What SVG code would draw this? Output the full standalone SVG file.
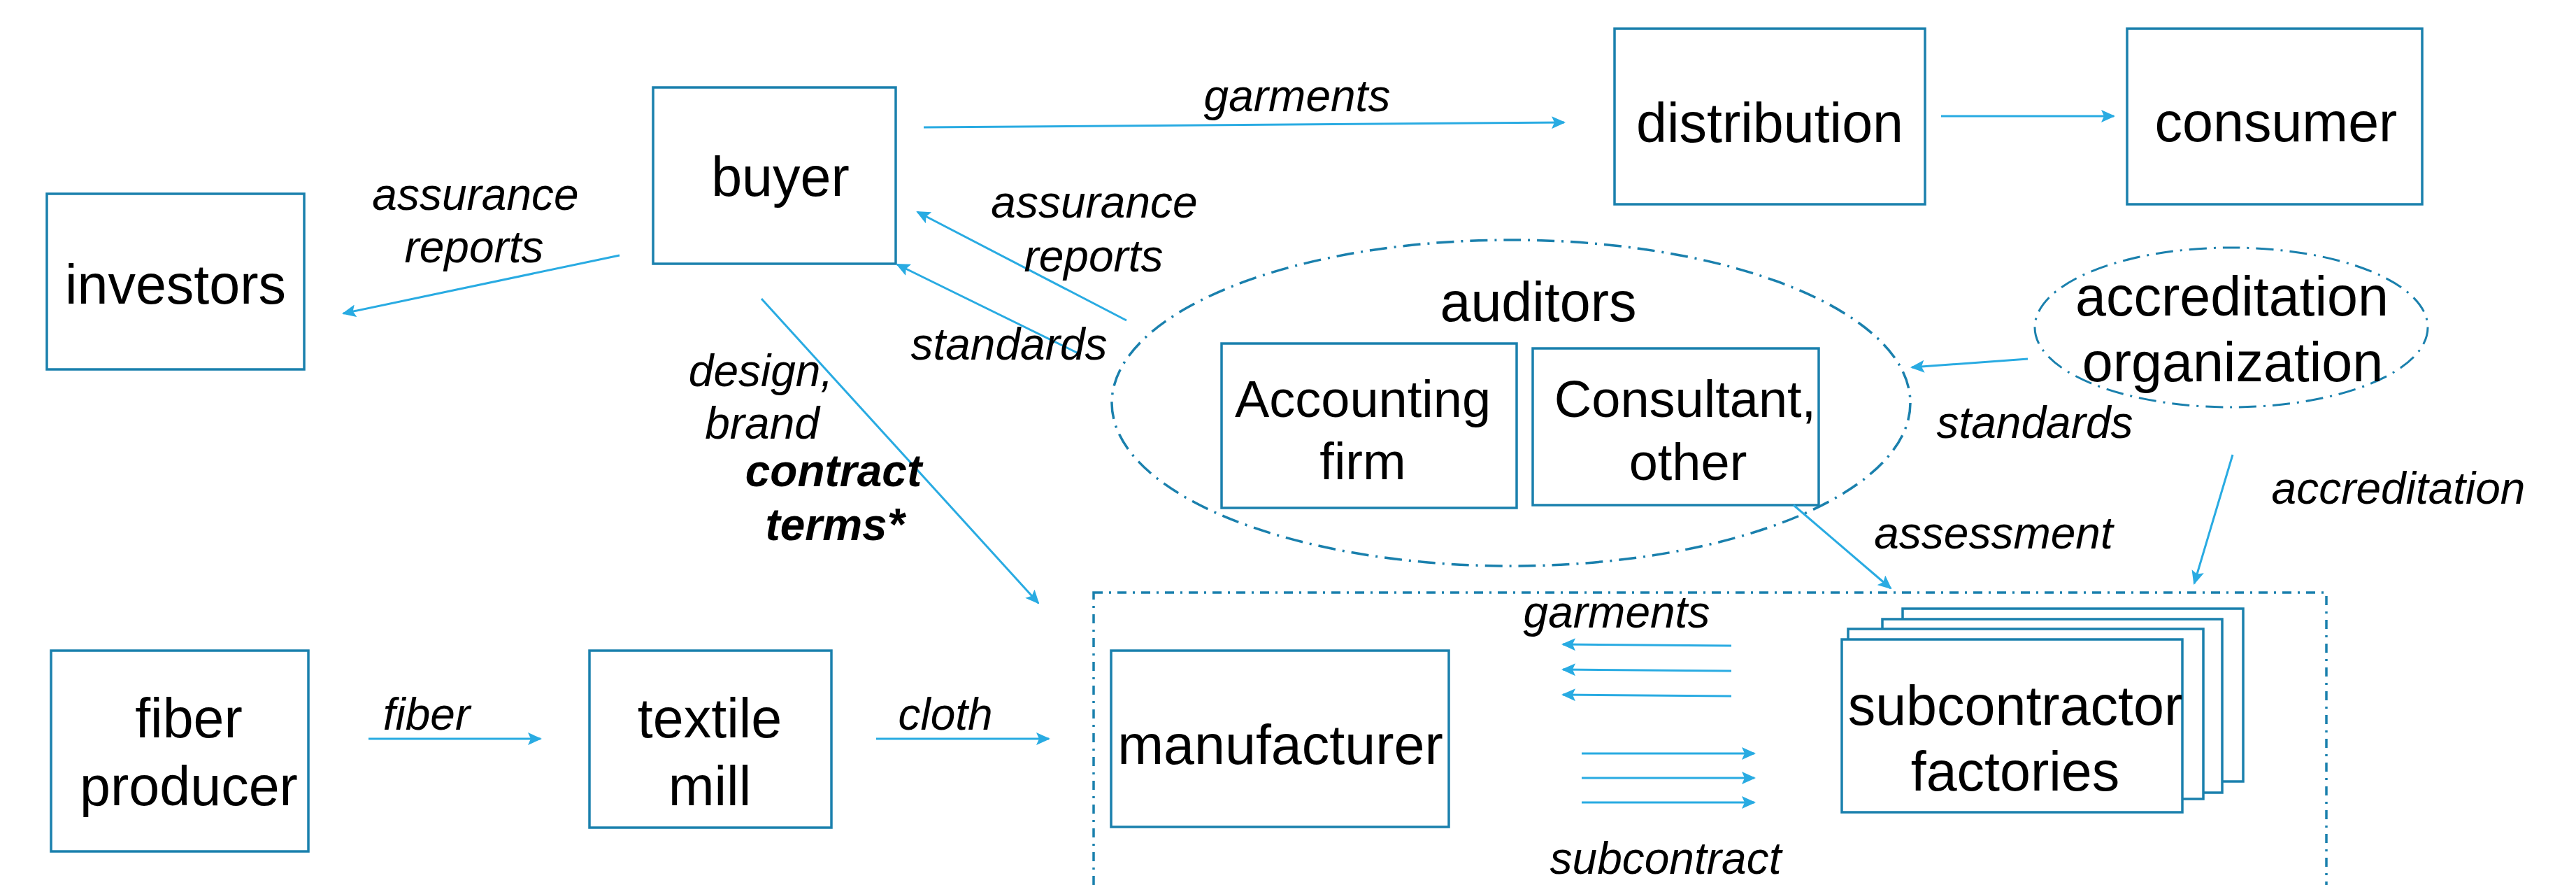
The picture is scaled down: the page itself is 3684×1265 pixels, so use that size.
<svg xmlns="http://www.w3.org/2000/svg" width="3684" height="1265" viewBox="0 0 3684 1265">
<defs>
<style>
.box{fill:#fff;stroke:#1A80AD;stroke-width:3.5}
.dd{fill:none;stroke:#1A80AD;stroke-width:3.5;stroke-dasharray:13 9 3 9}
.de{fill:none;stroke:#1A80AD;stroke-width:3.5;stroke-dasharray:25 10 3 10}
.arr{fill:none;stroke:#29ABE2;stroke-width:3;marker-end:url(#ah)}
.n{font-family:"Liberation Sans",Arial,sans-serif;font-size:79px;fill:#000;text-anchor:middle}
.s{font-family:"Liberation Sans",Arial,sans-serif;font-size:74px;fill:#000;text-anchor:middle}
.l{font-family:"Liberation Sans",Arial,sans-serif;font-size:64px;font-style:italic;fill:#000;text-anchor:middle}
.b{font-weight:bold}
</style>
<marker id="ah" markerUnits="userSpaceOnUse" markerWidth="20" markerHeight="18" viewBox="0 0 20 18" refX="18" refY="9" orient="auto">
<path d="M0,0 L20,9 L0,18 L4,9 Z" fill="#29ABE2"/>
</marker>
</defs>
<rect width="3684" height="1265" fill="#fff"/>

<g id="investors"><rect class="box" x="67" y="277" width="368" height="251"/><text class="n" x="251" y="434">investors</text></g>
<g id="buyer"><rect class="box" x="934" y="125" width="347" height="252"/><text class="n" x="1116" y="280">buyer</text></g>
<g id="distribution"><rect class="box" x="2309" y="41" width="444" height="251"/><text class="n" x="2531" y="203">distribution</text></g>
<g id="consumer"><rect class="box" x="3042" y="41" width="422" height="251"/><text class="n" x="3255" y="202">consumer</text></g>
<g id="auditors"><ellipse class="de" cx="2161" cy="576" rx="571" ry="233"/><text class="n" x="2200" y="459">auditors</text></g>
<g id="accounting-firm"><rect class="box" x="1747" y="491" width="422" height="235"/><text class="s" x="1949" y="596">Accounting</text><text class="s" x="1949" y="685">firm</text></g>
<g id="consultant"><rect class="box" x="2192" y="498" width="409" height="224"/><text class="s" x="2410" y="596">Consultant,</text><text class="s" x="2414" y="686">other</text></g>
<g id="accreditation-organization"><ellipse class="de" cx="3191" cy="468" rx="281" ry="114" style="stroke-width:3"/><text class="n" x="3192" y="451">accreditation</text><text class="n" x="3193" y="545">organization</text></g>
<g id="production-group"><rect class="dd" x="1564" y="847" width="1763" height="520"/></g>
<g id="fiber-producer"><rect class="box" x="73" y="930" width="368" height="287"/><text class="n" x="270" y="1054">fiber</text><text class="n" x="270" y="1151">producer</text></g>
<g id="textile-mill"><rect class="box" x="843" y="930" width="346" height="253"/><text class="n" x="1015" y="1054">textile</text><text class="n" x="1015" y="1151">mill</text></g>
<g id="manufacturer"><rect class="box" x="1589" y="930" width="483" height="252"/><text class="n" x="1831" y="1092">manufacturer</text></g>
<g id="subcontractor-factories">
<rect class="box" x="2721" y="870" width="487" height="247"/>
<rect class="box" x="2692" y="885" width="486" height="248"/>
<rect class="box" x="2643" y="899" width="508" height="243"/>
<rect class="box" x="2634" y="914" width="487" height="247"/>
<text class="n" x="2882" y="1036">subcontractor</text><text class="n" x="2882" y="1130">factories</text>
</g>

<g id="connectors">
<line class="arr" x1="886" y1="365" x2="491" y2="448"/>
<line class="arr" x1="1321" y1="182" x2="2237" y2="175"/>
<line class="arr" x1="2776" y1="166" x2="3023" y2="166"/>
<line class="arr" x1="1611" y1="458" x2="1312" y2="303"/>
<line class="arr" x1="1542" y1="505" x2="1283" y2="378"/>
<line class="arr" x1="1089" y1="427" x2="1485" y2="862"/>
<line class="arr" x1="2900" y1="513" x2="2734" y2="525"/>
<line class="arr" x1="2565" y1="722" x2="2704" y2="841"/>
<line class="arr" x1="3193" y1="650" x2="3138" y2="834"/>
<line class="arr" x1="527" y1="1056" x2="773" y2="1056"/>
<line class="arr" x1="1253" y1="1056" x2="1500" y2="1056"/>
<line class="arr" x1="2476" y1="923" x2="2235" y2="921"/>
<line class="arr" x1="2476" y1="959" x2="2235" y2="957"/>
<line class="arr" x1="2476" y1="995" x2="2235" y2="993"/>
<line class="arr" x1="2262" y1="1077" x2="2509" y2="1077"/>
<line class="arr" x1="2262" y1="1112" x2="2509" y2="1112"/>
<line class="arr" x1="2262" y1="1147" x2="2509" y2="1147"/>
</g>

<g id="labels">
<text class="l" x="680" y="300">assurance</text><text class="l" x="678" y="375">reports</text>
<text class="l" x="1855" y="159">garments</text>
<text class="l" x="1565" y="311">assurance</text><text class="l" x="1564" y="388">reports</text>
<text class="l" x="1443" y="514">standards</text>
<text class="l" x="1088" y="552">design,</text><text class="l" x="1090" y="627">brand</text>
<text class="l b" x="1192" y="695">contract</text><text class="l b" x="1194" y="772">terms*</text>
<text class="l" x="2910" y="626">standards</text>
<text class="l" x="2851" y="784">assessment</text>
<text class="l" x="3430" y="720">accreditation</text>
<text class="l" x="2312" y="897">garments</text>
<text class="l" x="2382" y="1249">subcontract</text>
<text class="l" x="610" y="1043">fiber</text>
<text class="l" x="1352" y="1043">cloth</text>
</g>
</svg>
